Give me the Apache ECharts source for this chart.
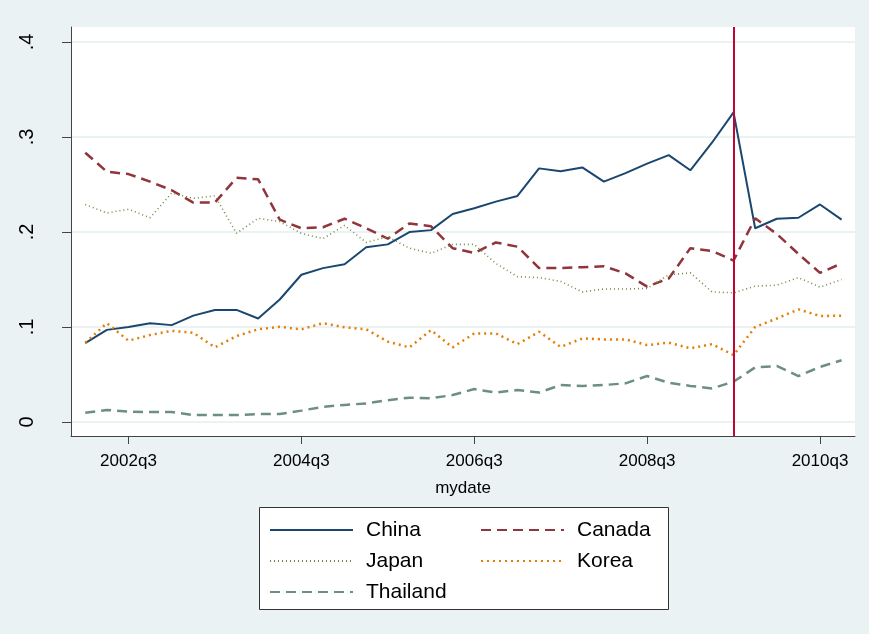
<!DOCTYPE html>
<html>
<head>
<meta charset="utf-8">
<script src="https://cdn.jsdelivr.net/npm/echarts@6/dist/echarts.min.js"></script>
<style>
  html, body { margin: 0; padding: 0; background: #eaf2f3; }
  #chart { width: 869px; height: 634px; }
</style>
</head>
<body>
<div id="chart"></div>
<script>
  // quarters 2002q1 .. 2010q4, index 0..35
  var firstYear = 2002
  var xTickIdx = [2, 10, 18, 26, 34]
  var xTickLabels = ['2002q3', '2004q3', '2006q3', '2008q3', '2010q3']
  var yTicks = [0, 0.1, 0.2, 0.3, 0.4]
  var yTickLabels = ['0', '.1', '.2', '.3', '.4']
  var markIdx = 30   // 2009q3

  var china = [0.083, 0.097, 0.100, 0.104, 0.102, 0.112, 0.118, 0.118, 0.109, 0.129, 0.155, 0.162,
    0.166, 0.184, 0.187, 0.200, 0.202, 0.219, 0.225, 0.232, 0.238, 0.267, 0.264, 0.268,
    0.253, 0.262, 0.272, 0.281, 0.265, 0.294, 0.326, 0.204, 0.214, 0.215, 0.229, 0.213]
  var canada = [0.2835, 0.2635, 0.261, 0.253, 0.244, 0.231, 0.231, 0.257, 0.2555, 0.213, 0.204, 0.205,
    0.214, 0.204, 0.193, 0.209, 0.206, 0.183, 0.178, 0.189, 0.1846, 0.162, 0.162, 0.163,
    0.164, 0.1565, 0.1425, 0.151, 0.183, 0.180, 0.170, 0.2144, 0.198, 0.177, 0.157, 0.167]
  var japan = [0.229, 0.220, 0.224, 0.215, 0.241, 0.2355, 0.238, 0.1986, 0.2144, 0.211, 0.1986, 0.193,
    0.207, 0.189, 0.195, 0.183, 0.1776, 0.187, 0.187, 0.167, 0.153, 0.152, 0.148, 0.137,
    0.140, 0.140, 0.1407, 0.155, 0.157, 0.137, 0.136, 0.143, 0.144, 0.152, 0.142, 0.150]
  var korea = [0.0835, 0.104, 0.0856, 0.0916, 0.096, 0.094, 0.0786, 0.0905, 0.0976, 0.1003, 0.0976, 0.104,
    0.0997, 0.0976, 0.0846, 0.0786, 0.0968, 0.0786, 0.0933, 0.0933, 0.082, 0.095, 0.079, 0.088,
    0.087, 0.087, 0.081, 0.0835, 0.0776, 0.082, 0.0705, 0.100, 0.109, 0.1186, 0.1116, 0.112]
  var thailand = [0.0098, 0.0126, 0.011, 0.0105, 0.0105, 0.0074, 0.0074, 0.0074, 0.0084, 0.0084, 0.012, 0.016,
    0.018, 0.0196, 0.023, 0.0256, 0.025, 0.0284, 0.0347, 0.031, 0.0337, 0.031, 0.039, 0.038,
    0.039, 0.0407, 0.0484, 0.0414, 0.038, 0.0354, 0.0425, 0.0575, 0.059, 0.0484, 0.058, 0.065]

  var textFont = "'Liberation Sans', Arial, sans-serif"

  function pairs(list) {
    return list.map(function (v, i) { return [i, v] })
  }

  function lineSeries(name, list, color, width, type) {
    return {
      name: name,
      type: 'line',
      data: pairs(list),
      symbol: 'none',
      showSymbol: false,
      animation: false,
      lineStyle: { color: color, width: width, type: type },
      itemStyle: { color: color }
    }
  }

  function legendBlock(names, left) {
    return {
      data: names,
      orient: 'vertical',
      left: left, top: 519,
      padding: 0,
      itemWidth: 83, itemHeight: 14, itemGap: 9,
      itemStyle: { opacity: 0 },
      textStyle: { fontFamily: textFont, fontSize: 21, color: '#000', lineHeight: 22, padding: [0, 0, 0, 8] }
    }
  }

  var chart = echarts.init(document.getElementById('chart'))

  var series = [
    lineSeries('China', china, '#1a476f', 2, 'solid'),
    lineSeries('Canada', canada, '#90353b', 2.5, [10, 6]),
    lineSeries('Japan', japan, '#6f8c45', 1.6, [1, 3]),
    lineSeries('Korea', korea, '#e37e00', 2.5, [2, 4]),
    lineSeries('Thailand', thailand, '#6e8e84', 2.5, [10, 6])
  ]
  series[0].markLine = {
    silent: true,
    symbol: 'none',
    label: { show: false },
    lineStyle: { color: '#c10534', width: 2, type: 'solid' },
    data: [{ xAxis: markIdx }]
  }

  var option = {
    backgroundColor: '#eaf2f3',
    animation: false,
    grid: {
      left: 71, right: 14, top: 27, bottom: 198,
      show: true, backgroundColor: '#ffffff', borderWidth: 0
    },
    xAxis: {
      type: 'value',
      min: -0.66,
      max: 35.62,
      name: 'mydate',
      nameLocation: 'middle',
      nameGap: 44,
      nameTextStyle: { fontFamily: textFont, fontSize: 17, color: '#000' },
      axisLine: { show: true, onZero: false, lineStyle: { color: '#444', width: 1 } },
      axisTick: { show: true, length: 8, customValues: xTickIdx, lineStyle: { color: '#444' } },
      axisLabel: {
        customValues: xTickIdx,
        margin: 17,
        fontFamily: textFont,
        fontSize: 17,
        color: '#000',
        formatter: function (v) {
          var k = xTickIdx.indexOf(Math.round(v))
          if (k >= 0) return xTickLabels[k]
          var q = Math.round(v)
          return (firstYear + Math.floor(q / 4)) + 'q' + (q % 4 + 1)
        }
      },
      splitLine: { show: false }
    },
    yAxis: {
      type: 'value',
      min: -0.0147,
      max: 0.4158,
      axisLine: { show: true, onZero: false, lineStyle: { color: '#444', width: 1 } },
      axisTick: { show: true, length: 9, customValues: yTicks, lineStyle: { color: '#444' } },
      axisLabel: {
        customValues: yTicks,
        rotate: 90,
        margin: 34,
        fontFamily: textFont,
        fontSize: 20,
        color: '#000',
        formatter: function (v) {
          var k = yTicks.indexOf(Math.round(v * 10) / 10)
          return k >= 0 ? yTickLabels[k] : ''
        }
      },
      splitLine: { show: true, customValues: yTicks, lineStyle: { color: '#eaf2f3', width: 2 } }
    },
    legend: [
      legendBlock(['China', 'Japan', 'Thailand'], 269),
      legendBlock(['Canada', 'Korea'], 480)
    ],
    graphic: [
      {
        type: 'rect',
        left: 259, top: 507, z: -1,
        shape: { width: 409, height: 102 },
        style: { fill: '#ffffff', stroke: '#333', lineWidth: 1 }
      }
    ],
    series: series
  }

  chart.setOption(option)
</script>
</body>
</html>
